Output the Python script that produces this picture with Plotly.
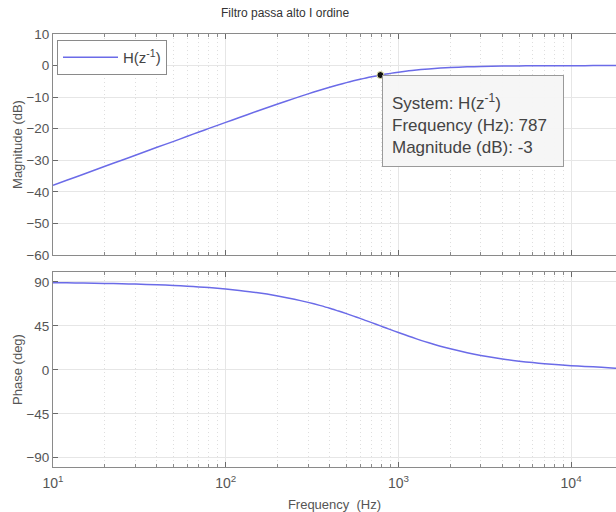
import plotly.graph_objects as go

# ---- data ----
freq_hz = [10, 12, 15, 20, 25, 30, 40, 50, 60, 70, 80, 100, 120, 150, 200, 250, 300,
           350, 400, 450, 500, 550, 600, 650, 700, 787, 850, 900, 1000, 1100, 1200,
           1350, 1500, 1750, 2000, 2500, 3000, 4000, 5000, 6000, 7000, 8500, 10000,
           12000, 15000, 18000, 20000]
magnitude_db = [-37.9, -36.34, -34.4, -31.9, -29.97, -28.4, -25.89, -24.0, -22.39,
                -21.05, -19.9, -18.0, -16.44, -14.56, -12.17, -10.38, -8.97, -7.82,
                -6.88, -6.08, -5.41, -4.84, -4.35, -3.92, -3.55, -3.01, -2.69, -2.47,
                -2.09, -1.8, -1.55, -1.27, -1.06, -0.8, -0.63, -0.41, -0.29, -0.17,
                -0.11, -0.07, -0.05, -0.04, -0.03, -0.02, -0.01, -0.01, -0.01]
phase_deg = [89.3, 89.1, 88.9, 88.5, 88.2, 87.8, 87.1, 86.4, 85.6, 84.9, 84.2, 82.8,
             81.3, 79.2, 75.7, 72.4, 69.1, 66.0, 63.1, 60.2, 57.6, 55.0, 52.7, 50.4,
             48.4, 45.0, 42.8, 41.2, 38.2, 35.6, 33.3, 30.2, 27.7, 24.2, 21.5, 17.5,
             14.7, 11.1, 8.9, 7.4, 6.3, 5.2, 4.3, 3.5, 2.6, 1.7, 1.2]
tip_freq = [787]
tip_mag = [-3]

series_name = "H(z<sup>-1</sup>)"
title_text = "Filtro passa alto I ordine"
mag_ticks = [10, 0, -10, -20, -30, -40, -50, -60]
phase_ticks = [90, 45, 0, -45, -90]
decades = [10, 100, 1000, 10000]
decade_labels = ["10<sup>1</sup>", "10<sup>2</sup>", "10<sup>3</sup>", "10<sup>4</sup>"]
minor_vals = [d * k for d in decades for k in range(2, 10)]

# ---- styling ----
W, H = 616, 512
L, R, T, B = 53, 0, 34, 45
line_color = "#6b6be8"
font_family = "Liberation Sans, Arial, Helvetica, sans-serif"
tick_color = "#555555"
major_grid = "#e6e6e6"
minor_grid = "#dedede"

fig = go.Figure()
fig.add_trace(go.Scatter(x=freq_hz, y=magnitude_db, mode="lines", name=series_name,
                         line=dict(color=line_color, width=1.5, shape="spline",
                                   smoothing=0.6),
                         xaxis="x", yaxis="y"))
fig.add_trace(go.Scatter(x=freq_hz, y=phase_deg, mode="lines", name=series_name,
                         line=dict(color=line_color, width=1.5, shape="spline",
                                   smoothing=0.6),
                         xaxis="x2", yaxis="y2", showlegend=False))
fig.add_trace(go.Scatter(x=tip_freq, y=tip_mag, mode="markers", showlegend=False,
                         marker=dict(color="#111111", size=7,
                                     line=dict(color="#e8e8b0", width=1)),
                         xaxis="x", yaxis="y"))

plot_h = H - T - B
top_dom = [(467 - 255) / plot_h, 1.0]
bot_dom = [0.0, (467 - 272) / plot_h]

xcommon = dict(type="log", range=[1, 4.26], showline=True, linecolor="#8a8a8a",
               linewidth=1, mirror="ticks", ticks="inside", ticklen=5,
               tickcolor="#6a6a6a", tickmode="array", tickvals=decades,
               ticktext=decade_labels, showgrid=True, gridcolor=major_grid,
               gridwidth=1, zeroline=False,
               tickfont=dict(size=14, color=tick_color, family=font_family),
               minor=dict(tickmode="array", tickvals=minor_vals, ticks="inside",
                          ticklen=3, tickcolor="#8a8a8a", showgrid=True,
                          gridcolor=minor_grid, griddash="1px,3px", gridwidth=1))
ycommon = dict(showline=True, linecolor="#8a8a8a", linewidth=1, mirror=False,
               ticks="inside", ticklen=5, tickcolor="#6a6a6a", showgrid=True,
               gridcolor=major_grid, gridwidth=1, zeroline=False,
               tickfont=dict(size=13.5, color=tick_color, family=font_family),
               title_font=dict(size=13, color=tick_color, family=font_family),
               title_standoff=0)

fig.update_layout(
    width=W, height=H,
    margin=dict(l=L, r=R, t=T, b=B),
    paper_bgcolor="white", plot_bgcolor="white",
    font=dict(family=font_family, color=tick_color),
    xaxis=dict(xcommon, domain=[0, 1], anchor="y", showticklabels=False),
    yaxis=dict(ycommon, domain=top_dom, anchor="x", range=[-60, 10],
               tickmode="array", tickvals=mag_ticks,
               title_text="Magnitude (dB)"),
    xaxis2=dict(xcommon, domain=[0, 1], anchor="y2", matches="x",
                ticklabelstandoff=3,
                title_text="Frequency  (Hz)",
                title_font=dict(size=13, color=tick_color, family=font_family),
                title_standoff=10),
    yaxis2=dict(ycommon, domain=bot_dom, anchor="x2", range=[-99.5, 100.2],
                tickmode="array", tickvals=phase_ticks,
                title_text="Phase (deg)"),
    showlegend=True,
    legend=dict(x=4 / (W - L), y=(467 - 40) / plot_h, xanchor="left", yanchor="top",
                bgcolor="white", bordercolor="#8a8a8a", borderwidth=1,
                font=dict(size=15, color="#444444", family=font_family),
                itemwidth=55, tracegroupgap=0),
)

fig.add_annotation(xref="paper", yref="paper", x=(285 - L) / (W - L), y=1,
                   text=title_text, showarrow=False, xanchor="center", yanchor="bottom",
                   yshift=12, font=dict(size=12, color="#333333", family=font_family))

fig.add_annotation(xref="paper", yref="paper",
                   x=(382 - L) / (W - L), y=(467 - 75) / plot_h,
                   xanchor="left", yanchor="top", showarrow=False, align="left",
                   text=("System: " + series_name + "<br>Frequency (Hz): 787"
                         "<br>Magnitude (dB): -3"),
                   font=dict(size=17, color="#444444", family=font_family),
                   bgcolor="rgba(246,246,246,0.95)", bordercolor="#9a9a9a",
                   borderwidth=1, borderpad=9, width=162, height=72, valign="bottom")

fig.write_html("out.html")
